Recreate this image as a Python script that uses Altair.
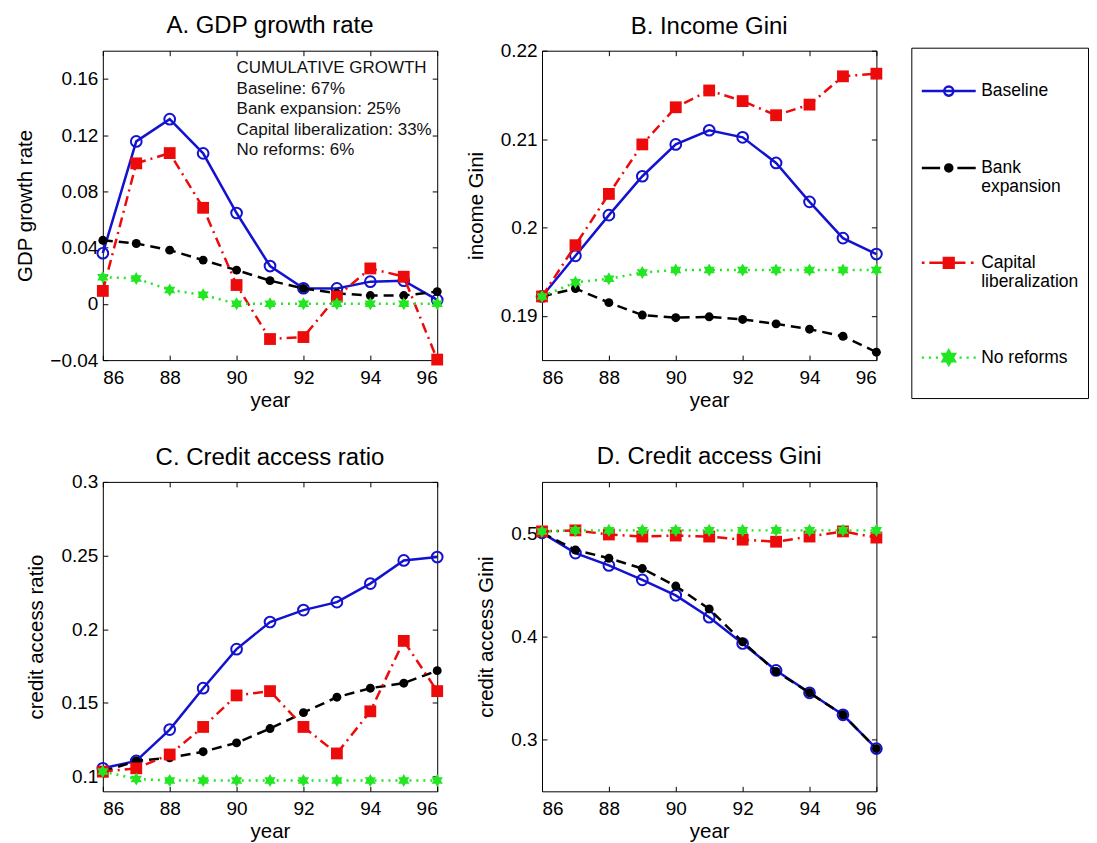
import altair as alt
import pandas as pd

years = [86, 87, 88, 89, 90, 91, 92, 93, 94, 95, 96]
series_names = ["Baseline", "Bank expansion", "Capital liberalization", "No reforms"]

# Panel A: GDP growth rate
gdp_baseline = [0.036, 0.1155, 0.1313, 0.107, 0.0646, 0.0269, 0.0111, 0.011, 0.0158, 0.0165, 0.0028]
gdp_bank = [0.0452, 0.0429, 0.0382, 0.0311, 0.024, 0.0165, 0.011, 0.0075, 0.0059, 0.0059, 0.0087]
gdp_capital = [0.0092, 0.0999, 0.1072, 0.0683, 0.0134, -0.025, -0.0236, 0.0052, 0.0252, 0.0193, -0.0396]
gdp_noreform = [0.0189, 0.0181, 0.0099, 0.0064, 0.0, 0.0, 0.0, 0.0, 0.0, 0.0, 0.0]

# Panel B: income Gini
gini_baseline = [0.1922, 0.1968, 0.2014, 0.2058, 0.2094, 0.2110, 0.2102, 0.2073, 0.2029, 0.1988, 0.1970]
gini_bank = [0.1922, 0.1931, 0.1915, 0.1901, 0.1898, 0.1899, 0.1896, 0.1891, 0.1885, 0.1877, 0.1859]
gini_capital = [0.1922, 0.1980, 0.2038, 0.2094, 0.2136, 0.2155, 0.2143, 0.2127, 0.2139, 0.2171, 0.2174]
gini_noreform = [0.1922, 0.1938, 0.1942, 0.1949, 0.1952, 0.1952, 0.1952, 0.1952, 0.1952, 0.1952, 0.1952]

# Panel C: credit access ratio
car_baseline = [0.1056, 0.1106, 0.1319, 0.1600, 0.1865, 0.2049, 0.2130, 0.2184, 0.2310, 0.2467, 0.2490]
car_bank = [0.1034, 0.1106, 0.1128, 0.1169, 0.1229, 0.1326, 0.1434, 0.1539, 0.1600, 0.1634, 0.1719]
car_capital = [0.1034, 0.1056, 0.1150, 0.1337, 0.1551, 0.1580, 0.1337, 0.1157, 0.1443, 0.1921, 0.1580]
car_noreform = [0.1034, 0.0984, 0.0973, 0.0973, 0.0973, 0.0973, 0.0973, 0.0973, 0.0973, 0.0973, 0.0973]

# Panel D: credit access Gini
cag_baseline = [0.5006, 0.4810, 0.4690, 0.4550, 0.4400, 0.4188, 0.3933, 0.3672, 0.3455, 0.3242, 0.2914]
cag_bank = [0.5006, 0.4840, 0.4760, 0.4660, 0.4490, 0.4268, 0.3949, 0.3662, 0.3455, 0.3242, 0.2914]
cag_capital = [0.5020, 0.5030, 0.4990, 0.4970, 0.4980, 0.4970, 0.4940, 0.4920, 0.4970, 0.5020, 0.4960]
cag_noreform = [0.5020, 0.5030, 0.5030, 0.5030, 0.5030, 0.5030, 0.5030, 0.5030, 0.5030, 0.5030, 0.5030]

panel_keys = ["A", "B", "C", "D"]
panel_titles = ["A. GDP growth rate", "B. Income Gini", "C. Credit access ratio", "D. Credit access Gini"]
y_titles = ["GDP growth rate", "income Gini", "credit access ratio", "credit access Gini"]
x_title = "year"
x_domain = [86, 96]
x_ticks = [86, 88, 90, 92, 94, 96]
y_domains = [[-0.04, 0.18], [0.185, 0.22], [0.09, 0.3], [0.25, 0.55]]
y_ticks = [
    [-0.04, 0, 0.04, 0.08, 0.12, 0.16],
    [0.19, 0.2, 0.21, 0.22],
    [0.1, 0.15, 0.2, 0.25, 0.3],
    [0.3, 0.4, 0.5],
]

annotation_lines = [
    "CUMULATIVE GROWTH",
    "Baseline: 67%",
    "Bank expansion: 25%",
    "Capital liberalization: 33%",
    "No reforms: 6%",
]
annotation_x = 90
annotation_y = 0.164

panel_values = {
    "A": [gdp_baseline, gdp_bank, gdp_capital, gdp_noreform],
    "B": [gini_baseline, gini_bank, gini_capital, gini_noreform],
    "C": [car_baseline, car_bank, car_capital, car_noreform],
    "D": [cag_baseline, cag_bank, cag_capital, cag_noreform],
}

rows = []
for key in panel_keys:
    for name, vals in zip(series_names, panel_values[key]):
        for yr, v in zip(years, vals):
            rows.append({"panel": key, "series": name, "year": yr, "value": v})
df = pd.DataFrame(rows)

FONT = "Liberation Sans"
BLUE = "#1212d0"
BLACK = "#000000"
RED = "#ec0a0a"
GREEN = "#22e622"
colors = [BLUE, BLACK, RED, GREEN]
dashes = [None, [10, 6], [10, 5, 2, 5], [2, 5]]

HEX = "M0,-1L0.866,0.5L-0.866,0.5Z M0,1L-0.866,-0.5L0.866,-0.5Z"

point_styles = [
    dict(shape="circle", filled=False, size=115, strokeWidth=2, color=BLUE, opacity=1),
    dict(shape="circle", filled=True, size=80, color=BLACK, opacity=1),
    dict(shape="square", filled=True, size=140, color=RED, opacity=1),
    dict(shape=HEX, filled=True, size=170, color=GREEN, opacity=1),
]

# legend symbols: line sample + marker (unit square [-1, 1], 1 unit = 27 px)
legend_paths = [
    "M-1,0 L1,0 M0.17,0 A0.17,0.17 0 1 1 -0.17,0 A0.17,0.17 0 1 1 0.17,0 Z",
    "M-1,0 L-0.32,0 M0.32,0 L1,0 M0.13,0 A0.13,0.13 0 1 1 -0.13,0 A0.13,0.13 0 1 1 0.13,0 Z",
    "M-1,0 L-0.9,0 M-0.72,0 L-0.2,0 M0.2,0 L0.62,0 M0.82,0 L0.92,0 M-0.18,-0.18 L0.18,-0.18 L0.18,0.18 L-0.18,0.18 Z",
    "M-1,0 L-0.92,0 M-0.74,0 L-0.66,0 M-0.48,0 L-0.4,0 M0.4,0 L0.48,0 M0.66,0 L0.74,0 M0.92,0 L1,0 "
    "M0,-0.26 L0.225,0.13 L-0.225,0.13 Z M0,0.26 L-0.225,-0.13 L0.225,-0.13 Z M0,0.97",
]
legend_fills = ["transparent", BLACK, RED, GREEN]

legend_def = alt.Legend(
    title=" ",
    titleFontSize=1,
    titlePadding=5,
    orient="none",
    legendX=810,
    legendY=-3,
    direction="vertical",
    padding=9,
    strokeColor="black",
    fillColor="white",
    rowPadding=38,
    symbolSize=2916,
    symbolStrokeWidth=2.5,
    labelFont=FONT,
    labelFontSize=17.5,
    labelColor="black",
    labelOffset=4,
    labelLimit=300,
    labelExpr="datum.label == 'Bank expansion' ? ['Bank', 'expansion'] : datum.label == 'Capital liberalization' ? ['Capital', 'liberalization'] : datum.label",
)

title_offsets = [12, 3, 3, 12]


def make_panel(idx):
    key = panel_keys[idx]
    src = alt.Chart(df).transform_filter(alt.datum.panel == key)
    xs = alt.Scale(domain=x_domain, nice=False, zero=False)
    ys = alt.Scale(domain=y_domains[idx], nice=False, zero=False)
    common = dict(offset=-5, tickSize=5, domain=False, tickColor="black", grid=False,
                  labelFont=FONT, labelFontSize=19, labelColor="black",
                  titleFont=FONT, titleFontSize=20.5, titleColor="black", titleFontWeight="normal")
    ax_bottom = alt.Axis(orient="bottom", values=x_ticks, format="d", title=x_title,
                         labelPadding=8, titlePadding=3, **common)
    ax_left = alt.Axis(orient="left", values=y_ticks[idx], format=".2~f", title=y_titles[idx],
                       labelPadding=5, titlePadding=14, **common)
    ax_top = alt.Axis(orient="top", values=x_ticks, labels=False, title="", **common)
    ax_right = alt.Axis(orient="right", values=y_ticks[idx], labels=False, title="", **common)

    layers = []
    for s, name in enumerate(series_names):
        sub = src.transform_filter(alt.datum.series == name)
        line_kwargs = dict(color=colors[s], strokeWidth=2.5)
        if dashes[s] is not None:
            line_kwargs["strokeDash"] = dashes[s]
        if s == 0:
            xa, ya = ax_bottom, ax_left
        elif s == 1:
            xa, ya = ax_top, ax_right
        else:
            xa, ya = None, None
        line = sub.mark_line(**line_kwargs).encode(
            x=alt.X("year:Q", scale=xs, axis=xa),
            y=alt.Y("value:Q", scale=ys, axis=ya),
        )
        pts = sub.mark_point(**point_styles[s]).encode(
            x=alt.X("year:Q", scale=xs, axis=None),
            y=alt.Y("value:Q", scale=ys, axis=None),
        )
        layers += [line, pts]

    if key == "A":
        ann = alt.Chart(df).transform_filter(alt.datum.panel == key).transform_aggregate(n="count()").mark_text(
            text=annotation_lines, align="left", baseline="alphabetic", font=FONT, fontSize=17,
            lineHeight=20.5, color="#111111",
        ).encode(
            x=alt.X(datum=annotation_x, scale=xs, axis=None),
            y=alt.Y(datum=annotation_y, scale=ys, axis=None),
        )
        leg = src.transform_filter("false").mark_point(filled=True, opacity=1, strokeWidth=2.5).encode(
            x=alt.X("year:Q", scale=xs, axis=None),
            y=alt.Y("value:Q", scale=ys, axis=None),
            fill=alt.Fill("series:N", scale=alt.Scale(domain=series_names, range=legend_fills), legend=legend_def),
            stroke=alt.Stroke("series:N", scale=alt.Scale(domain=series_names, range=colors), legend=legend_def),
            shape=alt.Shape("series:N", scale=alt.Scale(domain=series_names, range=legend_paths), legend=legend_def),
        )
        layers += [ann, leg]

    return alt.layer(*layers).resolve_axis(x="independent", y="independent").properties(
        width=335, height=310,
        title=alt.Title(panel_titles[idx], font=FONT, fontSize=24, fontWeight="normal", color="black",
                        frame="group", anchor="middle", offset=title_offsets[idx]),
    )


chart = alt.concat(
    *[make_panel(i) for i in range(4)],
    columns=2,
    spacing={"row": 122, "column": 105},
    bounds="flush",
).properties(
    padding={"left": 7, "top": 5, "right": 0, "bottom": 0},
    background="white",
).configure_view(stroke="black", strokeWidth=1)

chart.save("out.html", embed_options={"renderer": "svg", "actions": False})
